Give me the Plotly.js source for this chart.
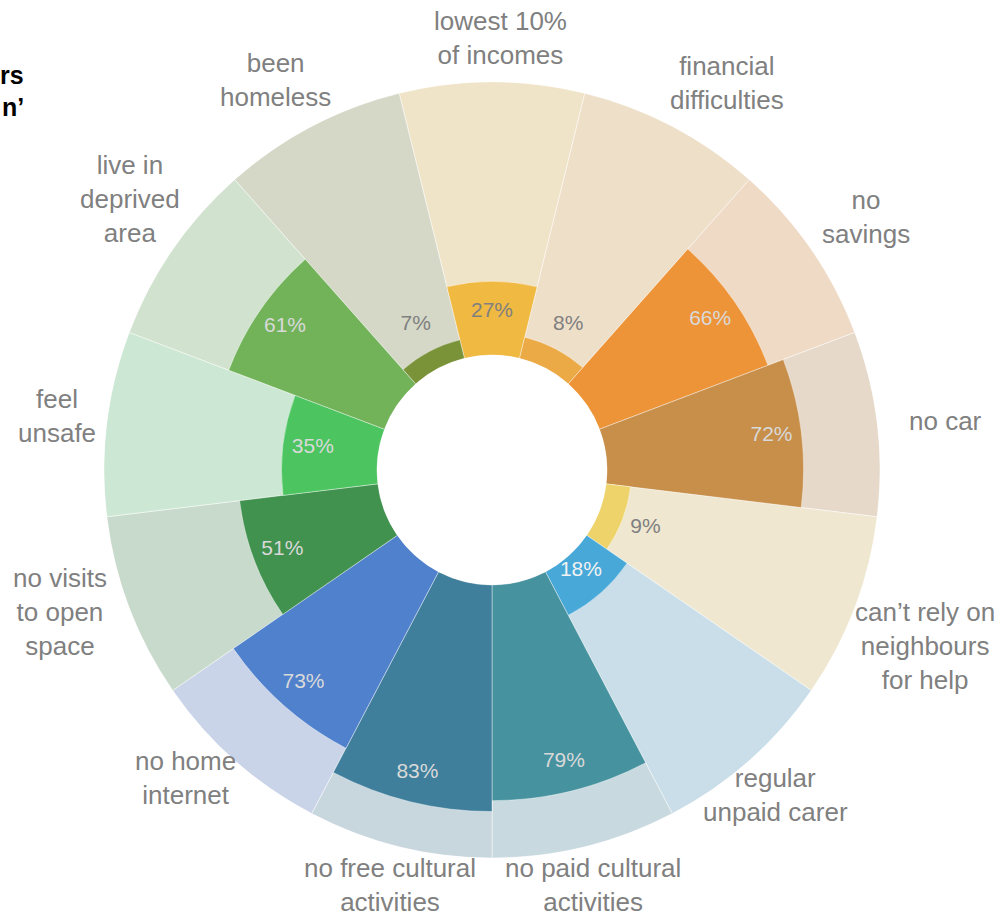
<!DOCTYPE html>
<html>
<head>
<meta charset="utf-8">
<script src="https://cdn.plot.ly/plotly-3.0.1.min.js"></script>
<style>html,body{margin:0;padding:0;background:#fff;}#chart{width:1007px;height:915px;}</style>
</head>
<body>
<div id="chart"></div>
<script>
const categories = ["lowest 10%<br>of incomes","financial<br>difficulties","no<br>savings","no car","can’t rely on<br>neighbours<br>for help","regular<br>unpaid carer","no paid cultural<br>activities","no free cultural<br>activities","no home<br>internet","no visits<br>to open<br>space","feel<br>unsafe","live in<br>deprived<br>area","been<br>homeless"];
const values = [27, 8, 66, 72, 9, 18, 79, 83, 73, 51, 35, 61, 7];
const fullScale = [100,100,100,100,100,100,100,100,100,100,100,100,100];
const valueLabels = ["27%","8%","66%","72%","9%","18%","79%","83%","73%","51%","35%","61%","7%"];
const barColors = ["#F0B942","#EBAA45","#EE9438","#C78F4A","#EED36A","#48A9D9","#46929F","#3F7F9C","#4F81CD","#41914F","#4CC561","#72B35A","#7A9338"];
const bgColors = ["#F0E4C8","#EEDFC9","#EFDAC6","#E6D9C9","#EFE7D0","#C9DEE8","#C8DAE0","#C8D6DE","#CAD4E8","#C8DACB","#CCE7D3","#D1E3CF","#D5D8C7"];
const labelColors = ["#808080","#808080","#D9D9D9","#D9D9D9","#808080","#F2F2F2","#D9D9D9","#D9D9D9","#D9D9D9","#D9D9D9","#D9D9D9","#D9D9D9","#808080"];

// layout: pixel centres of the outer category labels
const labelPos = [[500,38],[727,83],[866,217],[945,421],[925,646],[775,795],[593,885],[390,885],[185,778],[60,612],[57,416],[130,199],[275,80]];

const W = 1007, H = 915;
const cx = 492, cy = 470, R = 388;
const keys = categories.map((c, i) => "c" + i);
const labelR = values.map(v => v >= 18 ? v - 11 : 18);

const traces = [
  {type: "barpolar", r: fullScale, theta: keys, marker: {color: bgColors, line: {color: "rgba(255,255,255,0.6)", width: 0.8}}, hoverinfo: "skip", showlegend: false},
  {type: "barpolar", r: values, theta: keys, marker: {color: barColors, line: {color: "rgba(255,255,255,0.5)", width: 0.8}}, showlegend: false},
  {type: "scatterpolar", mode: "text", r: labelR, theta: keys, text: valueLabels,
   textfont: {family: "Liberation Sans, Arial, sans-serif", size: 21, color: labelColors}, showlegend: false, hoverinfo: "skip"}
];

const annotations = categories.map((c, i) => ({
  xref: "paper", yref: "paper", x: labelPos[i][0] / W, y: (H - labelPos[i][1]) / H,
  text: c, showarrow: false, xanchor: "center", yanchor: "middle",
  font: {family: "Liberation Sans, Arial, sans-serif", size: 26, color: "#808080"}
}));
annotations.push({xref: "paper", yref: "paper", x: 26 / W, y: (H - 75) / H, text: "<b>rs</b>", showarrow: false, xanchor: "right", yanchor: "middle", font: {family: "Liberation Sans, Arial, sans-serif", size: 25, color: "#000"}});
annotations.push({xref: "paper", yref: "paper", x: 26 / W, y: (H - 107) / H, text: "<b>n’</b>", showarrow: false, xanchor: "right", yanchor: "middle", font: {family: "Liberation Sans, Arial, sans-serif", size: 25, color: "#000"}});

const layout = {
  width: W, height: H,
  margin: {l: 0, r: 0, t: 0, b: 0},
  paper_bgcolor: "#fff",
  showlegend: false,
  polar: {
    domain: {x: [(cx - R) / W, (cx + R) / W], y: [(H - cy - R) / H, (H - cy + R) / H]},
    hole: 115 / 388,
    barmode: "overlay",
    bargap: 0,
    bgcolor: "rgba(0,0,0,0)",
    radialaxis: {range: [0, 100], visible: false, showgrid: false},
    angularaxis: {type: "category", rotation: 90, direction: "clockwise", showgrid: false, showline: false, ticks: "", showticklabels: false}
  },
  annotations: annotations
};
Plotly.newPlot("chart", traces, layout, {displayModeBar: false, staticPlot: true});
</script>
</body>
</html>
